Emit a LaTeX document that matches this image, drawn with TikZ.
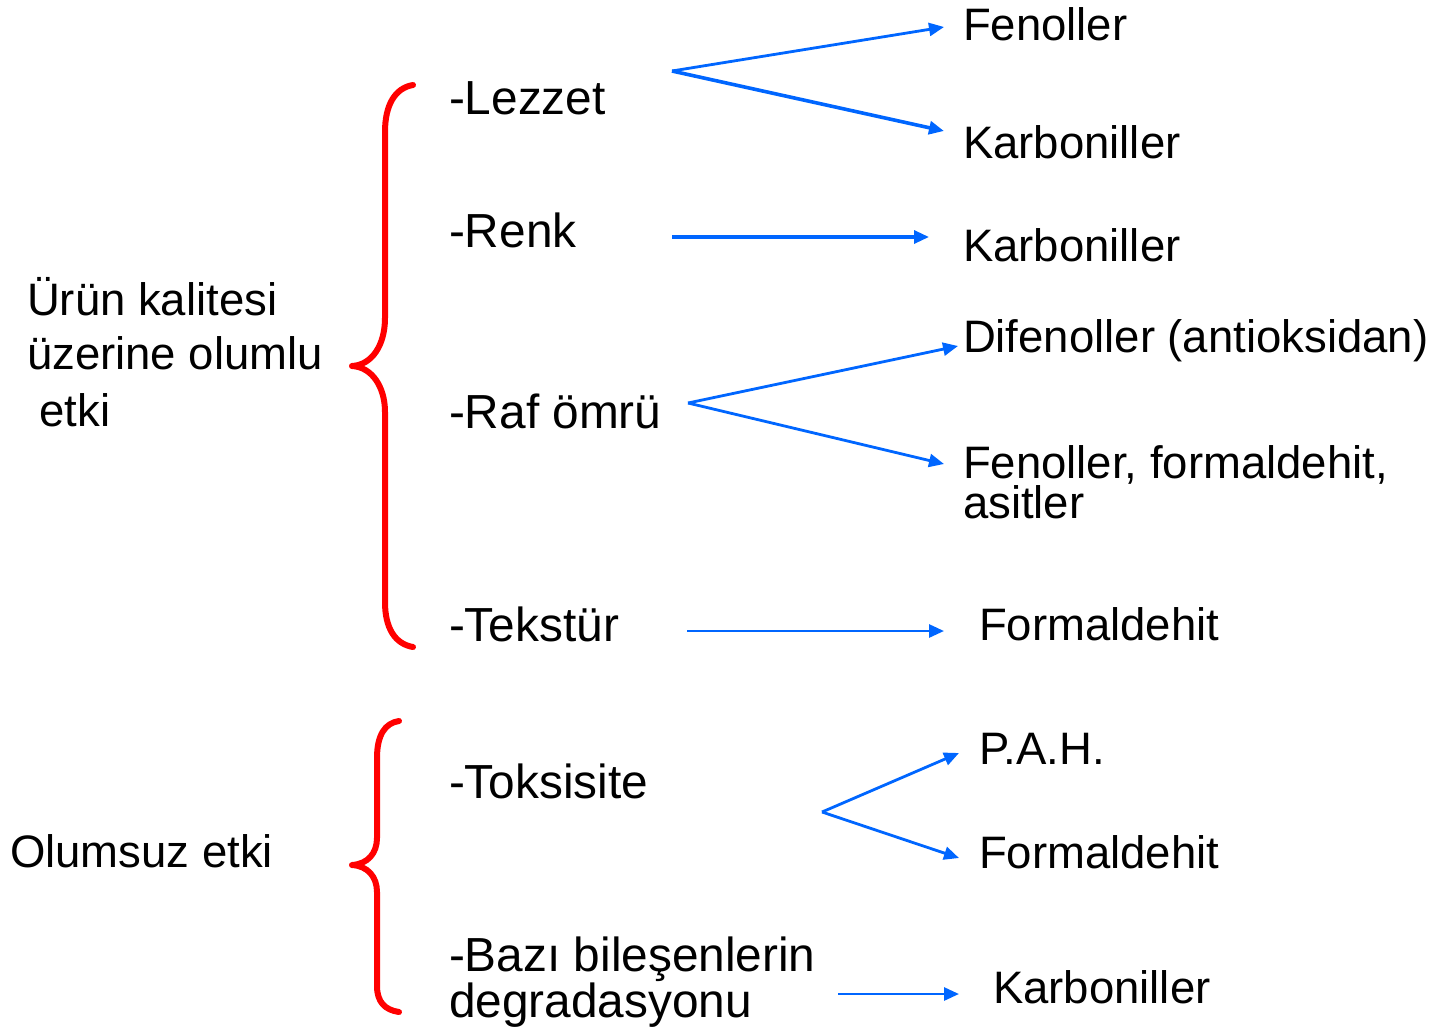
\documentclass[tikz,border=0pt]{standalone}
\usepackage{fontspec}
\setmainfont{Liberation Sans}
\usetikzlibrary{arrows.meta}
\definecolor{arrowblue}{HTML}{0066FF}
\definecolor{bracered}{HTML}{FF0000}
\begin{document}
\begin{tikzpicture}[x=1bp,y=-1bp,
  lbl/.style={anchor=base west,inner sep=0pt,outer sep=0pt,font=\fontsize{45.5bp}{37bp}\selectfont},
  mid/.style={lbl,font=\fontsize{47.8bp}{40bp}\selectfont},
  ml/.style={align=left},
  conn/.style={arrowblue,line width=2.8bp,-{Triangle[length=15bp,width=13bp]}},
  brace/.style={bracered,line width=6bp,line cap=round,line join=round}]
\useasboundingbox (0,0) rectangle (1431,1030);

% left-hand captions
\node[lbl] (pos1) at (27,315) {Ürün kalitesi};
\node[lbl] (pos2) at (27,369) {üzerine olumlu};
\node[lbl] (pos3) at (27,426) {\ etki};
\node[lbl] (neg) at (10,867) {Olumsuz etki};

% braces
\draw[brace] (413,85) .. controls (395,88) and (385,105) .. (385,132)
  -- (385,318) .. controls (385,345) and (372,365) .. (352,366)
  .. controls (372,367) and (385,387) .. (385,412)
  -- (385,602) .. controls (385,628) and (395,644) .. (413,647);
\draw[brace] (399,721) .. controls (385,723) and (377,735) .. (377,758)
  -- (377,838) .. controls (377,853) and (368,864) .. (352,865)
  .. controls (368,866) and (377,877) .. (377,892)
  -- (377,986) .. controls (377,1002) and (385,1010) .. (399,1012);

% middle column (multi-line nodes sit on the baseline of their last line)
\node[mid] (lezzet) at (449,114) {-Lezzet};
\node[mid] (renk) at (449,247) {-Renk};
\node[mid] (raf) at (449,428) {-Raf ömrü};
\node[mid] (tekstur) at (449,641) {-Tekstür};
\node[mid] (toks) at (449,798) {-Toksisite};
\node[mid,ml] (bazi) at (449,1017) {-Bazı bileşenlerin\\degradasyonu};

% right column
\node[lbl] (fen1) at (963,40) {Fenoller};
\node[lbl] (karb1) at (963,158) {Karboniller};
\node[lbl] (karb2) at (963,261) {Karboniller};
\node[lbl] (difen) at (963,352) {Difenoller (antioksidan)};
\node[lbl,ml] (fenform) at (963,518) {Fenoller, formaldehit,\\asitler};
\node[lbl] (form1) at (979,640) {Formaldehit};
\node[lbl] (pah) at (979,764) {P.A.H.};
\node[lbl] (form2) at (979,868) {Formaldehit};
\node[lbl] (karb3) at (993,1003) {Karboniller};

% connector anchors
\coordinate (sLez) at (672,71);
\coordinate (eFen1) at (944,27);
\coordinate (eKarb1) at (944,131);
\coordinate (sRenk) at (672,237);
\coordinate (eKarb2) at (929,237);
\coordinate (sRaf) at (688,403);
\coordinate (eDifen) at (958,346);
\coordinate (eFenform) at (944,464);
\coordinate (sTek) at (687,631);
\coordinate (eForm1) at (944,631);
\coordinate (sToks) at (822,812);
\coordinate (ePah) at (959,753);
\coordinate (eForm2) at (959,858);
\coordinate (sBazi) at (838,994);
\coordinate (eKarb3) at (959,994);

% connectors
\draw[conn] (sLez) -- (eFen1);
\draw[conn,line width=3.6bp] (sLez) -- (eKarb1);
\draw[conn,line width=3.2bp] (sRenk) -- (eKarb2);
\draw[conn] (sRaf) -- (eDifen);
\draw[conn] (sRaf) -- (eFenform);
\draw[conn] (sTek) -- (eForm1);
\draw[conn] (sToks) -- (ePah);
\draw[conn] (sToks) -- (eForm2);
\draw[conn] (sBazi) -- (eKarb3);
\end{tikzpicture}
\end{document}
